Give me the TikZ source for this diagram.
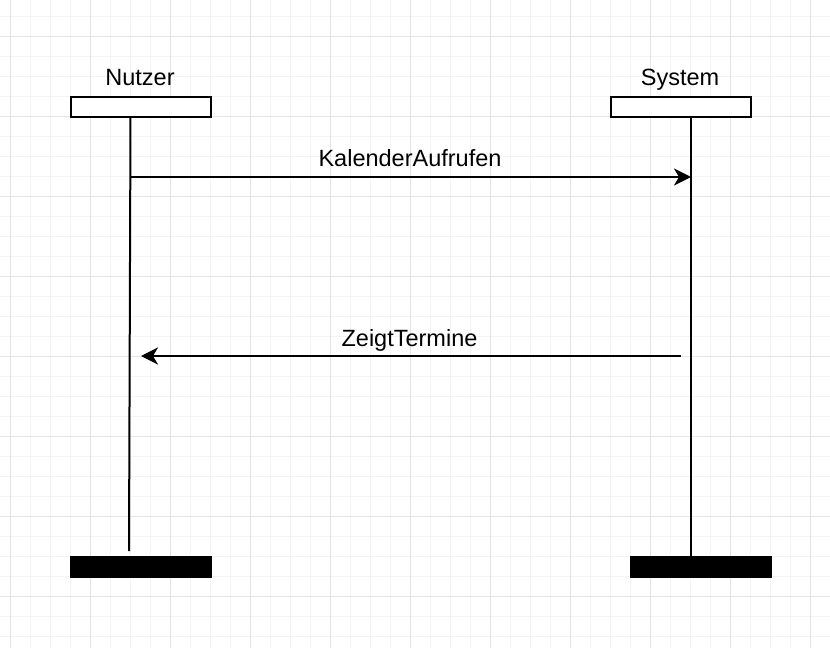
\documentclass[tikz,border=0pt]{standalone}
\usepackage{fontspec}
\setmainfont{Liberation Sans}
\usetikzlibrary{arrows.meta}
\definecolor{gridminor}{HTML}{F3F3F3}
\definecolor{gridmajor}{HTML}{E3E3E3}
\begin{document}
\begin{tikzpicture}[x=1pt,y=-1pt,
  lbl/.style={font=\fontsize{23.5}{28}\selectfont, anchor=base, inner sep=0pt},
  headbox/.style={draw=black, line width=2pt, fill=white, minimum width=140pt, minimum height=20pt, inner sep=0pt},
  endbar/.style={fill=black, draw=none, minimum width=142pt, minimum height=22pt, inner sep=0pt},
  life/.style={line width=2pt},
  msg/.style={line width=2pt, -{Stealth[length=17pt,width=17pt,inset=5pt]}}]
\useasboundingbox (0,0) rectangle (830,648);
\fill[white] (0,0) rectangle (830,648);
% grid
\foreach \x in {10.5,30.5,...,830} \draw[gridminor, line width=1.6pt] (\x,0) -- (\x,648);
\foreach \y in {16.5,36.5,...,640} \draw[gridminor, line width=1.6pt] (0,\y) -- (830,\y);
\foreach \x in {10.5,90.5,...,830} \draw[gridmajor, line width=1.6pt] (\x,0) -- (\x,648);
\foreach \y in {36.5,116.5,...,640} \draw[gridmajor, line width=1.6pt] (0,\y) -- (830,\y);
% heads
\node[headbox] (nbox) at (141,107) {};
\node[headbox] (sbox) at (681,107) {};
\node[lbl] (nlbl) at (140,85) {Nutzer};
\node[lbl] (slbl) at (680,85) {System};
% end bars
\node[endbar] (nend) at (141,567) {};
\node[endbar] (send) at (701,567) {};
% lifelines
\coordinate (ntop) at (130.5,117);
\coordinate (nbot) at (129,551);
\coordinate (stop) at (691,117);
\coordinate (sbot) at (691,556);
\draw[life] (ntop) -- (nbot);
\draw[life] (stop) -- (sbot);
% messages
\coordinate (m1s) at (130,177);
\coordinate (m1e) at (691,177);
\coordinate (m2s) at (681,356);
\coordinate (m2e) at (141,356);
\draw[msg] (m1s) -- (m1e);
\draw[msg] (m2s) -- (m2e);
\node[lbl] (l1) at (410,166) {KalenderAufrufen};
\node[lbl] (l2) at (409.5,346) {ZeigtTermine};
\end{tikzpicture}
\end{document}
